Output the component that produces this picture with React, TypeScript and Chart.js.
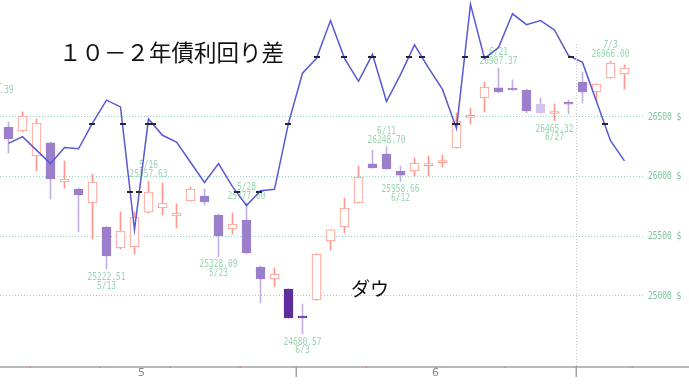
import React, { useEffect, useRef } from 'react';
import { Chart, registerables } from 'chart.js';

Chart.register(...registerables);

// Trading days (2019) shown on the chart
const YEAR = 2019;
const DATES = [
  '5/1', '5/2', '5/3', '5/6', '5/7', '5/8', '5/9', '5/10', '5/13', '5/14',
  '5/15', '5/16', '5/17', '5/20', '5/21', '5/22', '5/23', '5/24', '5/28', '5/29',
  '5/30', '5/31', '6/3', '6/4', '6/5', '6/6', '6/7', '6/10', '6/11', '6/12',
  '6/13', '6/14', '6/17', '6/18', '6/19', '6/20', '6/21', '6/24', '6/25', '6/26',
  '6/27', '6/28', '7/1', '7/2', '7/3', '7/5',
];

// Dow daily candles
const OPEN = [
  26600, 26414, 26380, 26171, 26280, 25953, 25894, 25777, 25576, 25400,
  25408, 25701, 25735, 25668, 25794, 25835, 25676, 25559, 25634, 25240,
  25140, 25056, 24821, 24964, 25458, 25576, 25777, 26104, 26187, 26045,
  26045, 26090, 26115, 26238, 26494, 26657, 26741, 26730, 26724, 26606,
  26527, 26610, 26791, 26707, 26824, 26858,
];
const HIGH = [
  26665.39, 26456, 26539, 26481, 26288, 26129, 25902, 26020, 25580, 25701,
  25701, 25957.63, 25945, 25768, 25911, 25894, 25684, 25693, 25777.6, 25249,
  25232, 25060, 24930, 25352, 25553, 25819, 26087, 26221, 26248.7, 26087,
  26154, 26171, 26179, 26531, 26573, 26791, 26907.37, 26808, 26728, 26657,
  26606, 26640, 26875, 26776, 26966.0, 26933,
];
const LOW = [
  26420, 26196, 26372, 26045, 25810, 25902, 25534, 25475, 25222.51, 25391,
  25349, 25693, 25676, 25567, 25790, 25760, 25328.09, 25517, 25350, 24939,
  25073, 24810, 24680.57, 24960, 25383, 25525, 25775, 26068, 26060, 25958.66,
  26003, 26003, 26078, 26236, 26439, 26539, 26699, 26720, 26531, 26529,
  26465.32, 26523, 26615, 26632, 26822, 26732,
];
const CLOSE = [
  26430, 26313, 26506, 26447, 25978, 25978, 25844, 25953, 25333, 25542,
  25659, 25869, 25777, 25693, 25894, 25785, 25500, 25601, 25358, 25140,
  25182, 24813, 24813, 25349, 25551, 25735, 25995, 26070, 26062, 26011,
  26112, 26097, 26122, 26464, 26500, 26749, 26707, 26724, 26548, 26531,
  26533, 26604, 26707, 26774, 26950, 26908,
];

// 10-year minus 2-year Treasury yield spread (%)
const SPREAD = [
  null, 0.186, 0.191, 0.181, 0.171, 0.183, 0.182, 0.201, 0.218, 0.213,
  0.122, 0.204, 0.192, 0.187, 0.172, 0.157, 0.171, 0.154, 0.14, 0.151,
  0.152, 0.201, 0.238, 0.249, 0.277, 0.249, 0.232, 0.252, 0.217, 0.237,
  0.259, 0.242, 0.226, 0.197, 0.289, 0.249, 0.257, 0.282, 0.274, 0.277,
  0.27, 0.251, 0.246, 0.217, 0.188, 0.173,
];

const PRICE_TICKS = [25000, 25500, 26000, 26500];
const SPREAD_LEVELS = [0.15, 0.2, 0.25];
const HIGH_MARKS = ['5/1', '5/16', '5/28', '6/11', '6/21', '7/3'];
const LOW_MARKS = ['5/13', '5/23', '6/3', '6/12', '6/27'];
const HEAVY_DAYS = ['5/31', '6/3'];
const LIGHT_DAYS = ['6/26'];

const TITLE = '１０－２年債利回り差';
const PRICE_NAME = 'ダウ';

const UP = '#ff978b';
const DOWN = '#9c7fcb';
const DOWN_WICK = '#c3afe2';
const HEAVY = '#5f2d9e';
const LIGHT = '#d3c4ec';
const LABEL_GREEN = '#97d6ae';
const AXIS_GREEN = '#7cc49c';
const LINE_BLUE = '#5858d4';

const toDate = (s: string) => {
  const [m, d] = s.split('/').map(Number);
  return new Date(YEAR, m - 1, d);
};

const isUp = (i: number) => CLOSE[i] >= OPEN[i];

const bodyColor = (i: number) => {
  if (HEAVY_DAYS.includes(DATES[i])) return HEAVY;
  if (LIGHT_DAYS.includes(DATES[i])) return LIGHT;
  return isUp(i) ? UP : DOWN;
};
const wickColor = (i: number) => (isUp(i) ? UP : DOWN_WICK);

// Boundaries between trading days: week starts and month starts
function boundaries() {
  const out: { pos: number; month: boolean; newMonth: number }[] = [];
  const days = DATES.map(toDate);
  const next = new Date(days[days.length - 1]);
  do {
    next.setDate(next.getDate() + 1);
  } while (next.getDay() === 0 || next.getDay() === 6);
  const all = [...days, next];
  for (let i = 1; i < all.length; i++) {
    const a = all[i - 1];
    const b = all[i];
    const month = a.getMonth() !== b.getMonth();
    const week = b.getDay() < a.getDay();
    if (month || week) out.push({ pos: i - 0.5, month, newMonth: b.getMonth() + 1 });
  }
  return out;
}

function monthCenters() {
  const groups: Record<number, number[]> = {};
  DATES.forEach((d, i) => {
    const m = toDate(d).getMonth() + 1;
    (groups[m] = groups[m] || []).push(i);
  });
  return Object.entries(groups)
    .filter(([, idx]) => idx.length >= 10)
    .map(([m, idx]) => ({ label: m, pos: idx.reduce((a, b) => a + b, 0) / idx.length }));
}

function narrowText(ctx: CanvasRenderingContext2D, text: string, x: number, y: number, align: CanvasTextAlign) {
  ctx.save();
  ctx.translate(x, y);
  ctx.scale(0.72, 1);
  ctx.textAlign = align;
  ctx.textBaseline = 'middle';
  ctx.fillText(text, 0, 0);
  ctx.restore();
}

const decorations = {
  id: 'decorations',
  beforeDatasetsDraw(chart: any) {
    const { ctx } = chart;
    const x = chart.scales.x;
    const y = chart.scales.y;
    ctx.save();
    ctx.fillStyle = LABEL_GREEN;
    HIGH_MARKS.forEach((d, k) => {
      const i = DATES.indexOf(d);
      const px = x.getPixelForValue(i);
      const py = y.getPixelForValue(HIGH[i]);
      ctx.font = k === HIGH_MARKS.length - 1 ? 'italic 11px "DejaVu Sans Mono"' : '11px "DejaVu Sans Mono"';
      narrowText(ctx, d, px, py - 16, 'center');
      ctx.font = '11px "DejaVu Sans Mono"';
      narrowText(ctx, HIGH[i].toFixed(2), px, py - 7, 'center');
    });
    LOW_MARKS.forEach((d) => {
      const i = DATES.indexOf(d);
      const px = x.getPixelForValue(i);
      const py = y.getPixelForValue(LOW[i]);
      ctx.font = '11px "DejaVu Sans Mono"';
      narrowText(ctx, LOW[i].toFixed(2), px, py + 8, 'center');
      narrowText(ctx, d, px, py + 16.5, 'center');
    });
    ctx.restore();
  },
  afterDatasetsDraw(chart: any) {
    const { ctx } = chart;
    const x = chart.scales.x;
    const y2 = chart.scales.y2;
    // small dashes where the spread line crosses its level lines
    ctx.save();
    ctx.fillStyle = '#262633';
    const pts = SPREAD.map((v, i) => (v == null ? null : { i, v }));
    for (let k = 1; k < pts.length; k++) {
      const a = pts[k - 1];
      const b = pts[k];
      if (!a || !b) continue;
      SPREAD_LEVELS.forEach((L) => {
        if ((a.v - L) * (b.v - L) < 0) {
          const t = (L - a.v) / (b.v - a.v);
          const px = x.getPixelForValue(a.i + t);
          const py = y2.getPixelForValue(L);
          ctx.fillRect(Math.round(px) - 3, Math.round(py) - 1, 6, 2);
        }
      });
    }
    ctx.restore();
  },
  afterDraw(chart: any) {
    const { ctx, chartArea, width } = chart;
    const x = chart.scales.x;
    const y = chart.scales.y;
    const bottom = chartArea.bottom;
    ctx.save();

    // price labels on the right
    ctx.fillStyle = AXIS_GREEN;
    ctx.font = '11px "DejaVu Sans Mono"';
    PRICE_TICKS.forEach((v) => {
      narrowText(ctx, `${v} $`, chartArea.right + 3, y.getPixelForValue(v), 'left');
    });

    // time axis
    ctx.fillStyle = '#b9b9b9';
    ctx.fillRect(0, bottom, width, 2);
    boundaries().forEach((b) => {
      const px = Math.round(x.getPixelForValue(b.pos));
      if (b.month) {
        ctx.fillStyle = '#a0a0a0';
        ctx.fillRect(px - 0.5, bottom, 1.5, 11);
        if (b.newMonth === 7 || b.newMonth === 1) {
          ctx.strokeStyle = '#c8c8c8';
          ctx.lineWidth = 1;
          ctx.setLineDash([1, 2]);
          ctx.beginPath();
          ctx.moveTo(px + 0.5, chartArea.top + 44);
          ctx.lineTo(px + 0.5, bottom);
          ctx.stroke();
          ctx.setLineDash([]);
        }
      } else {
        ctx.fillStyle = '#f07a72';
        ctx.fillRect(px - 0.5, bottom + 0.5, 1.5, 1.5);
      }
    });
    ctx.fillStyle = '#8a8a8a';
    ctx.font = '11px "DejaVu Sans"';
    ctx.textAlign = 'center';
    ctx.textBaseline = 'middle';
    monthCenters().forEach((m) => {
      ctx.fillText(m.label, x.getPixelForValue(m.pos), bottom + 7);
    });

    // captions
    ctx.fillStyle = '#111111';
    ctx.textAlign = 'left';
    ctx.font = '22.5px "Noto Sans CJK JP"';
    ctx.fillText(TITLE, 59, 52.5);
    ctx.font = '19px "Noto Sans CJK JP"';
    ctx.fillText(PRICE_NAME, 351, 289);
    ctx.restore();
  },
};

export default function App() {
  const canvasRef = useRef<HTMLCanvasElement | null>(null);

  useEffect(() => {
    const canvas = canvasRef.current;
    if (!canvas) return;

    const wicks = DATES.map((_, i) => ({ x: i, y: [LOW[i], HIGH[i]] }));
    const bodies = DATES.map((_, i) => ({ x: i, y: [OPEN[i], CLOSE[i]] }));
    const spread = SPREAD.map((v, i) => (v == null ? null : { x: i, y: v })).filter(Boolean);

    const chart = new Chart(canvas, {
      type: 'bar',
      data: {
        datasets: [
          {
            type: 'line',
            label: '10-2',
            data: spread as any,
            yAxisID: 'y2',
            borderColor: LINE_BLUE,
            borderWidth: 1.5,
            pointRadius: 0,
            tension: 0,
            order: 0,
          } as any,
          {
            type: 'bar',
            label: 'body',
            data: bodies as any,
            yAxisID: 'y',
            backgroundColor: DATES.map((_, i) => (isUp(i) ? '#ffffff' : bodyColor(i))),
            borderColor: DATES.map((_, i) => bodyColor(i)),
            borderWidth: 1,
            borderSkipped: false,
            barThickness: 9,
            minBarLength: 2,
            grouped: false,
            order: 1,
          } as any,
          {
            type: 'bar',
            label: 'wick',
            data: wicks as any,
            yAxisID: 'y',
            backgroundColor: DATES.map((_, i) => wickColor(i)),
            borderWidth: 0,
            barThickness: 1,
            grouped: false,
            order: 2,
          } as any,
        ],
      },
      options: {
        animation: false,
        responsive: true,
        maintainAspectRatio: false,
        devicePixelRatio: 1,
        events: [],
        layout: { padding: 0 },
        plugins: {
          legend: { display: false },
          tooltip: { enabled: false },
          title: { display: false },
        },
        scales: {
          x: {
            type: 'linear',
            offset: false,
            min: 5.5 / 14,
            max: (645 + 5.5) / 14,
            ticks: { display: false },
            grid: { display: false, offset: false },
            border: { display: false },
            afterFit: (s: any) => {
              s.height = 20;
            },
          },
          y: {
            type: 'linear',
            position: 'right',
            min: 24410.9,
            max: 27477.9,
            ticks: { display: false },
            afterBuildTicks: (s: any) => {
              s.ticks = PRICE_TICKS.map((v) => ({ value: v }));
            },
            grid: { color: 'rgba(130,205,185,0.85)', drawTicks: false, lineWidth: 1 },
            border: { display: false, dash: [1, 2] },
            afterFit: (s: any) => {
              s.width = 44;
            },
          },
          y2: {
            type: 'linear',
            display: false,
            min: 0.02111,
            max: 0.29222,
          },
        },
      } as any,
      plugins: [decorations],
    });

    return () => chart.destroy();
  }, []);

  return (
    <div style={{ position: 'fixed', left: 0, top: 0, width: 689, height: 386, background: '#ffffff' }}>
      <canvas ref={canvasRef} />
    </div>
  );
}
